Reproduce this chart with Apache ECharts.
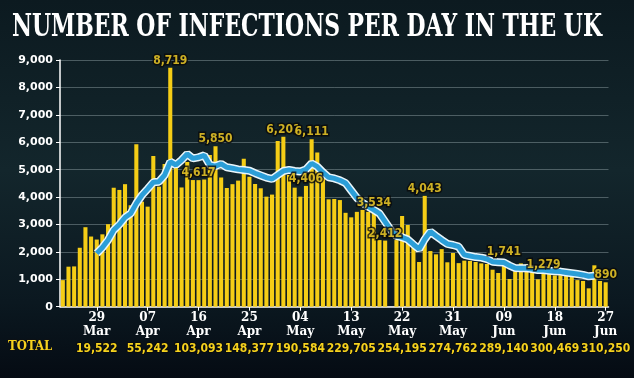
<!DOCTYPE html>
<html><head><meta charset="utf-8">
<script src="https://cdn.jsdelivr.net/npm/echarts/dist/echarts.min.js"></script>
<style>html,body{margin:0;padding:0;background:#0b171c;}#c{width:634px;height:378px;}</style>
</head><body><div id="c"></div><script>
const titleText = 'NUMBER OF INFECTIONS PER DAY IN THE UK';
const categories = [
 '23 Mar','24 Mar','25 Mar','26 Mar','27 Mar','28 Mar','29 Mar','30 Mar','31 Mar',
 '01 Apr','02 Apr','03 Apr','04 Apr','05 Apr','06 Apr','07 Apr','08 Apr','09 Apr','10 Apr',
 '11 Apr','12 Apr','13 Apr','14 Apr','15 Apr','16 Apr','17 Apr','18 Apr','19 Apr','20 Apr',
 '21 Apr','22 Apr','23 Apr','24 Apr','25 Apr','26 Apr','27 Apr','28 Apr','29 Apr','30 Apr',
 '01 May','02 May','03 May','04 May','05 May','06 May','07 May','08 May','09 May','10 May',
 '11 May','12 May','13 May','14 May','15 May','16 May','17 May','18 May','19 May','20 May',
 '21 May','22 May','23 May','24 May','25 May','26 May','27 May','28 May','29 May','30 May','31 May',
 '01 Jun','02 Jun','03 Jun','04 Jun','05 Jun','06 Jun','07 Jun','08 Jun','09 Jun','10 Jun',
 '11 Jun','12 Jun','13 Jun','14 Jun','15 Jun','16 Jun','17 Jun','18 Jun','19 Jun','20 Jun',
 '21 Jun','22 Jun','23 Jun','24 Jun','25 Jun','26 Jun','27 Jun'
];
const dailyCases = [
 970,1460,1470,2150,2900,2560,2450,2640,3010,
 4340,4260,4470,3700,5930,3830,3650,5500,4380,5210,
 8719,5250,4350,5280,4620,4617,4640,5535,5850,4710,
 4330,4470,4600,5400,4745,4477,4320,4015,4090,6046,
 6201,4806,4343,4015,4406,6111,5630,4690,3917,3930,
 3890,3425,3260,3460,3530,3460,3534,2430,2412,null,
 2430,3310,2980,2190,1630,4043,2030,1910,2100,1620,1960,
 1590,1680,1670,1630,1580,1560,1350,1230,1741,1010,
 1290,1580,1545,1290,1000,1279,1190,1140,1150,1120,
 1095,970,940,670,1510,937,890
];
const rollingAvg = [
 null,null,null,null,null,null,1945,2160,2430,
 2795,3000,3255,3400,3770,4070,4300,4540,4560,4800,
 5290,5170,5350,5570,5410,5450,5520,5170,5130,5210,
 5085,5050,5010,4990,4960,4870,4790,4710,4660,4805,
 4950,4990,4950,4930,5010,5230,5110,4900,4720,4680,
 4610,4510,4240,3970,3790,3650,3530,3400,3100,2800,
 2580,2530,2450,2270,2100,2460,2740,2580,2430,2290,2250,
 2190,1890,1850,1810,1790,1740,1640,1625,1610,1500,
 1410,1400,1400,1375,1340,1340,1310,1290,1280,1250,
 1220,1190,1160,1110,1130,null,null
];
const labelledDays = [19,24,27,39,43,44,55,57,64,78,85,96];
const tickDays = ['29\nMar','07\nApr','16\nApr','25\nApr','04\nMay','13\nMay','22\nMay','31\nMay','09\nJun','18\nJun','27\nJun'];
const runningTotals = ['19,522','55,242','103,093','148,377','190,584','229,705','254,195','274,762','289,140','300,469','310,250'];
const yTicks = {min:0, max:9000, interval:1000};

function fmt(n){ return String(n).replace(/\B(?=(\d{3})+(?!\d))/g, ','); }
const firstTick = 6, tickStep = 9;
const isTick = (i) => i >= firstTick && (i - firstTick) % tickStep === 0;
const narrow = '"DejaVu Sans Condensed", "DejaVu Sans", sans-serif';

const chart = echarts.init(document.getElementById('c'), null, {renderer:'canvas'});
const titleFont = 'bold 32px "DejaVu Serif"';
const mctx = document.createElement('canvas').getContext('2d');
mctx.font = titleFont;
const titleScale = 590 / mctx.measureText(titleText).width;

const option = {
  animation: false,
  backgroundColor: {
    type: 'linear', x: 0, y: 0, x2: 0, y2: 1,
    colorStops: [
      {offset: 0, color: '#0c1a20'},
      {offset: 0.45, color: '#13262c'},
      {offset: 0.8, color: '#0b1820'},
      {offset: 1, color: '#050b13'}
    ]
  },
  graphic: [
    {type:'text', x:12, y:28, scaleX: titleScale, style:{text:titleText, font:titleFont, fill:'#ffffff', verticalAlign:'middle'}},
    {type:'text', x:8, y:347, style:{text:'TOTAL', font:'bold 13px "DejaVu Serif Condensed", "DejaVu Serif"', fill:'#f5d21e', verticalAlign:'middle', stroke:'#111', lineWidth:1}}
  ],
  grid: {left: 60, right: 23, top: 60, bottom: 71.3},
  xAxis: {
    type: 'category',
    data: categories,
    boundaryGap: true,
    axisLine: {lineStyle: {color: '#ffffff', width: 1.5}},
    axisTick: {show: true, alignWithLabel: true, interval: (i) => isTick(i), length: 4, lineStyle: {color: '#ffffff'}},
    axisLabel: {
      interval: (i) => isTick(i),
      showMaxLabel: true,
      hideOverlap: false,
      margin: 4,
      formatter: (v, i) => {
        const k = (i - firstTick) / tickStep;
        const parts = tickDays[k].split('\n');
        return '{d|' + parts[0] + '}\n{m|' + parts[1] + '}\n{t|' + runningTotals[k] + '}';
      },
      rich: {
        d: {color:'#fff', fontFamily:'"DejaVu Serif"', fontWeight:'bold', fontSize:12, lineHeight:14},
        m: {color:'#fff', fontFamily:'"DejaVu Serif"', fontWeight:'bold', fontSize:12, lineHeight:14},
        t: {color:'#f5d21e', fontFamily:narrow, fontWeight:'bold', fontSize:12, lineHeight:20, textBorderColor:'#0a0a0a', textBorderWidth:1.5}
      }
    },
    splitLine: {show: false}
  },
  yAxis: {
    type: 'value',
    min: yTicks.min, max: yTicks.max, interval: yTicks.interval,
    axisLine: {show: true, lineStyle: {color: '#ffffff', width: 1.5}},
    axisTick: {show: true, length: 4, lineStyle: {color: '#ffffff'}},
    axisLabel: {color:'#ffffff', fontFamily:'"DejaVu Sans"', fontWeight:'bold', fontSize:11, margin:7, formatter: (v) => fmt(v)},
    splitLine: {show: true, lineStyle: {color: 'rgba(190,205,210,0.35)', width: 1}}
  },
  series: [
    {type:'bar', data: dailyCases, barCategoryGap:'28%', itemStyle:{color:'#f5cd16'}, z:2},
    {type:'line', data: rollingAvg, showSymbol:false, lineStyle:{color:'#eaf6fb', width:8}, z:3, silent:true},
    {type:'line', data: rollingAvg, showSymbol:false, lineStyle:{color:'#2b9ed8', width:5}, z:4, silent:true},
    {type:'scatter', data: labelledDays.map(i => [i, dailyCases[i]]), symbolSize: 0, z:6, zlevel:1,
     label:{show:true, position:'top', distance:1, formatter:(p) => fmt(p.value[1]),
       color:'#ffd92a', fontFamily:narrow, fontWeight:'bold', fontSize:12,
       textBorderColor:'#0a0a0a', textBorderWidth:3}}
  ]
};
chart.setOption(option);
</script></body></html>
